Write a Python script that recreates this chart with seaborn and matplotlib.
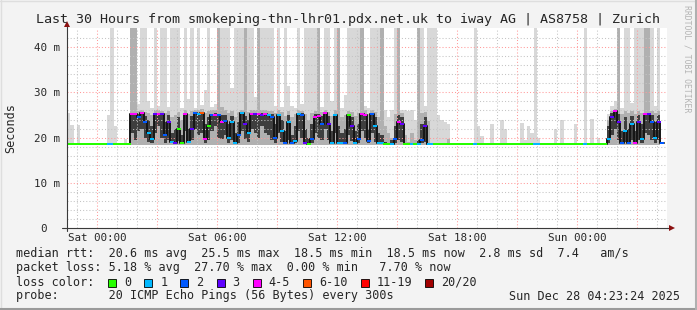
import numpy as np
import pandas as pd
import matplotlib
matplotlib.use("Agg")
import matplotlib.pyplot as plt
from matplotlib.path import Path
from matplotlib.patches import Rectangle
from matplotlib.lines import Line2D
import matplotlib.transforms as mtransforms
import seaborn as sns

# ---------------- data (10-minute steps, hours relative to Sat 00:00) ----------------
start_hour = -1.5
step_hours = 1 / 6

median_ms = [
    18.5, 18.5, 18.5, 18.5, 18.5, 18.5, 18.5, 18.5, 18.5, 18.5, 18.5, 18.5,
    18.5, 18.5, 18.5, 18.5, 18.5, 18.5, 18.5, 25.2, 25.2, 24.6, 25.4, 23.4,
    21.0, 19.6, 25.2, 25.3, 25.2, 20.5, 23.4, 19.0, 18.8, 21.9, 18.7, 25.2,
    19.0, 22.0, 25.4, 25.3, 25.4, 19.8, 22.5, 25.0, 25.1, 25.0, 23.5, 23.6,
    20.0, 23.5, 18.7, 20.5, 25.4, 23.0, 21.0, 25.2, 25.3, 25.2, 25.1, 25.2,
    25.0, 24.6, 20.0, 25.0, 21.5, 18.7, 23.5, 18.7, 19.2, 25.2, 25.1, 18.7,
    18.6, 19.8, 24.6, 24.8, 23.0, 25.4, 23.0, 18.7, 25.0, 18.7, 18.7, 18.8,
    25.0, 22.5, 18.7, 19.8, 25.2, 25.0, 19.2, 25.2, 22.5, 18.7, 18.7, 18.5,
    18.5, 18.5, 19.8, 23.5, 23.0, 18.5, 18.5, 18.5, 18.5, 18.5, 19.5, 22.5,
    18.5, 18.5, 18.5, 18.5, 18.5, 18.5, 18.5, 18.5, 18.5, 18.5, 18.5, 18.5,
    18.5, 18.5, 18.5, 18.5, 18.5, 18.5, 18.5, 18.5, 18.5, 18.5, 18.5, 18.5,
    18.5, 18.5, 18.5, 18.5, 18.5, 18.5, 18.5, 18.5, 18.5, 18.5, 18.5, 18.5,
    18.5, 18.5, 18.5, 18.5, 18.5, 18.5, 18.5, 18.5, 18.5, 18.5, 18.5, 18.5,
    18.5, 18.5, 18.5, 18.5, 18.5, 18.5, 19.8, 24.6, 25.8, 23.4, 18.7, 21.5,
    18.7, 23.0, 18.7, 23.4, 19.8, 25.2, 25.2, 23.4, 20.0, 23.4, 18.8, np.nan,
]

loss_pings = [
    0, 0, 0, 0, 0, 0, 0, 0, 0, 0, 0, 0,
    1, 1, 0, 0, 0, 0, 0, 4, 4, 2, 4, 2,
    1, 1, 3, 4, 3, 2, 3, 1, 3, 0, 0, 4,
    1, 3, 2, 1, 7, 4, 0, 2, 4, 2, 4, 2,
    1, 1, 1, 2, 1, 3, 1, 4, 3, 4, 3, 4,
    1, 2, 2, 1, 1, 2, 1, 2, 1, 1, 2, 3,
    0, 2, 4, 4, 2, 4, 3, 1, 1, 1, 1, 2,
    0, 3, 1, 2, 4, 4, 2, 2, 1, 1, 1, 0,
    0, 1, 2, 4, 3, 0, 0, 1, 0, 1, 2, 3,
    1, 1, 0, 0, 0, 0, 0, 0, 0, 0, 0, 0,
    0, 0, 1, 0, 0, 0, 0, 0, 0, 0, 0, 0,
    0, 0, 0, 0, 0, 0, 0, 0, 1, 1, 0, 0,
    0, 0, 0, 0, 0, 0, 0, 0, 0, 0, 0, 1,
    0, 0, 0, 0, 0, 0, 1, 3, 4, 3, 2, 1,
    2, 1, 4, 3, 1, 4, 3, 2, 1, 3, 2, 0,
]

ping_p25_ms = [
    18.5, 18.5, 18.5, 18.5, 18.5, 18.5, 18.5, 18.5, 18.5, 18.5, 18.5, 18.5,
    18.5, 18.5, 18.5, 18.5, 18.5, 18.5, 18.5, 21.0, 19.5, 21.5, 22.0, 20.0,
    19.0, 18.8, 21.0, 22.5, 20.0, 18.9, 19.5, 18.8, 18.7, 19.2, 18.7, 21.5,
    18.8, 19.5, 22.0, 20.5, 21.0, 18.9, 19.5, 21.5, 22.5, 20.0, 19.8, 20.5,
    18.9, 19.5, 18.7, 18.9, 21.5, 19.8, 19.0, 22.0, 21.0, 20.0, 22.5, 21.0,
    20.5, 19.5, 18.9, 21.0, 19.0, 18.7, 19.5, 18.7, 18.8, 21.5, 20.0, 18.7,
    18.6, 18.8, 21.0, 20.0, 19.5, 22.0, 19.5, 18.7, 21.0, 18.7, 18.7, 18.7,
    20.5, 19.2, 18.7, 18.8, 21.5, 20.0, 18.8, 21.0, 19.0, 18.7, 18.7, 18.5,
    18.5, 18.5, 18.8, 19.5, 19.0, 18.5, 18.5, 18.5, 18.5, 18.5, 18.8, 19.0,
    18.5, 18.5, 18.5, 18.5, 18.5, 18.5, 18.5, 18.5, 18.5, 18.5, 18.5, 18.5,
    18.5, 18.5, 18.5, 18.5, 18.5, 18.5, 18.5, 18.5, 18.5, 18.5, 18.5, 18.5,
    18.5, 18.5, 18.5, 18.5, 18.5, 18.5, 18.5, 18.5, 18.5, 18.5, 18.5, 18.5,
    18.5, 18.5, 18.5, 18.5, 18.5, 18.5, 18.5, 18.5, 18.5, 18.5, 18.5, 18.5,
    18.5, 18.5, 18.5, 18.5, 18.5, 18.5, 18.8, 20.5, 22.0, 19.5, 18.7, 19.0,
    18.7, 19.5, 18.7, 19.5, 18.8, 21.0, 20.5, 19.5, 18.9, 19.5, 18.7, np.nan,
]

ping_p75_ms = [
    18.5, 18.5, 18.5, 18.5, 18.5, 18.5, 18.5, 18.5, 18.5, 18.5, 18.5, 18.5,
    18.5, 18.5, 18.5, 18.5, 18.5, 18.5, 18.5, 25.4, 25.4, 25.2, 25.5, 24.8,
    24.0, 22.5, 25.4, 25.5, 25.4, 23.5, 25.0, 21.0, 22.0, 24.5, 20.5, 25.4,
    22.0, 24.8, 25.6, 25.5, 25.6, 23.0, 24.5, 25.3, 25.4, 25.3, 25.0, 25.0,
    23.0, 24.8, 21.0, 23.5, 25.6, 24.8, 24.0, 25.4, 25.5, 25.4, 25.4, 25.4,
    25.3, 25.2, 23.0, 25.3, 24.0, 21.5, 25.0, 20.5, 22.5, 25.4, 25.4, 22.0,
    20.0, 23.0, 25.2, 25.3, 24.8, 25.6, 24.8, 21.5, 25.3, 22.5, 21.0, 22.0,
    25.3, 24.5, 21.5, 23.0, 25.4, 25.3, 22.0, 25.4, 24.5, 21.0, 20.5, 19.0,
    18.8, 19.5, 22.5, 25.0, 24.5, 18.8, 18.6, 18.8, 18.6, 19.5, 23.0, 24.5,
    18.6, 18.5, 18.5, 18.5, 18.5, 18.5, 18.5, 18.5, 18.5, 18.5, 18.5, 18.5,
    18.5, 18.5, 18.5, 18.5, 18.5, 18.5, 18.5, 18.5, 18.5, 18.5, 18.5, 18.5,
    18.5, 18.5, 18.5, 18.5, 18.5, 18.5, 18.5, 18.5, 18.5, 18.5, 18.5, 18.5,
    18.5, 18.5, 18.5, 18.5, 18.5, 18.5, 18.5, 18.5, 18.5, 18.5, 18.5, 18.5,
    18.5, 18.5, 18.5, 18.5, 18.5, 18.5, 22.5, 25.5, 26.0, 25.2, 21.5, 24.5,
    22.0, 24.8, 21.5, 25.0, 23.0, 25.4, 25.4, 25.0, 23.5, 25.0, 22.0, np.nan,
]

ping_p90_ms = [
    18.6, 18.6, 18.6, 18.6, 18.6, 18.6, 18.6, 18.6, 18.6, 18.6, 18.6, 18.6,
    18.6, 18.6, 18.6, 18.6, 18.6, 18.6, 18.6, 45.0, 45.0, 25.8, 26.0, 25.6,
    25.5, 25.0, 26.0, 26.2, 25.9, 25.5, 25.8, 24.5, 25.0, 25.6, 24.0, 26.0,
    25.2, 25.8, 26.2, 26.0, 26.3, 25.5, 25.8, 26.0, 26.1, 45.0, 26.8, 26.0,
    25.5, 25.8, 24.5, 25.6, 26.2, 45.0, 25.6, 26.0, 26.1, 45.0, 26.0, 26.0,
    25.9, 25.8, 25.5, 26.0, 25.6, 24.8, 25.8, 24.5, 25.2, 26.0, 25.9, 25.2,
    24.0, 25.4, 25.8, 45.0, 25.6, 26.2, 25.6, 24.8, 26.0, 45.0, 24.5, 25.0,
    25.9, 25.6, 24.8, 25.5, 45.0, 26.0, 25.2, 26.0, 25.6, 24.5, 45.0, 22.5,
    21.0, 20.0, 25.2, 45.0, 25.5, 20.5, 19.0, 21.0, 19.5, 45.0, 25.5, 25.6,
    23.7, 18.6, 18.6, 18.6, 18.6, 18.6, 19.8, 18.6, 18.6, 18.6, 18.6, 18.6,
    18.6, 18.6, 18.6, 18.6, 18.6, 18.6, 18.6, 18.6, 18.6, 18.6, 18.6, 18.6,
    18.6, 18.6, 18.6, 18.6, 18.6, 18.6, 18.6, 18.6, 18.6, 18.6, 18.6, 18.6,
    18.6, 18.6, 18.6, 18.6, 18.6, 18.6, 18.6, 18.6, 18.6, 18.6, 18.6, 18.6,
    18.6, 18.6, 18.6, 18.6, 18.6, 18.6, 24.0, 25.8, 26.3, 45.0, 25.2, 25.8,
    25.5, 25.8, 25.2, 25.8, 25.5, 45.0, 45.0, 25.8, 25.5, 25.8, 25.2, np.nan,
]

ping_max_ms = [
    25.4, 22.8, 18.6, 22.7, 18.6, 18.6, 18.6, 18.6, 18.6, 18.6, 18.6, 18.6,
    25.0, 45.0, 22.5, 18.6, 18.6, 19.6, 18.6, 45.0, 45.0, 27.5, 45.0, 45.0,
    28.0, 26.5, 45.0, 27.0, 45.0, 45.0, 26.8, 45.0, 45.0, 45.0, 26.5, 45.0,
    28.5, 45.0, 26.5, 45.0, 27.2, 30.5, 45.0, 26.8, 27.5, 45.0, 45.0, 45.0,
    45.0, 31.0, 45.0, 45.0, 45.0, 45.0, 45.0, 45.0, 29.0, 45.0, 45.0, 45.0,
    45.0, 45.0, 27.0, 45.0, 26.8, 45.0, 31.5, 27.0, 26.5, 45.0, 27.5, 45.0,
    45.0, 45.0, 45.0, 45.0, 26.8, 45.0, 45.0, 28.0, 45.0, 45.0, 26.5, 29.5,
    45.0, 45.0, 45.0, 45.0, 45.0, 27.0, 26.5, 45.0, 45.0, 45.0, 45.0, 26.0,
    24.5, 26.0, 45.0, 45.0, 26.0, 26.2, 25.8, 26.2, 24.0, 45.0, 45.0, 27.0,
    45.0, 45.0, 45.0, 24.9, 24.0, 23.5, 23.0, 18.6, 18.6, 18.6, 18.6, 18.6,
    18.6, 18.6, 45.0, 22.5, 20.3, 18.6, 18.6, 23.0, 18.6, 18.6, 24.0, 21.8,
    18.6, 18.6, 18.6, 18.6, 23.2, 19.5, 22.5, 21.0, 45.0, 20.0, 18.6, 18.6,
    18.6, 18.6, 22.0, 18.6, 23.8, 18.6, 18.6, 18.6, 22.9, 18.6, 18.6, 45.0,
    18.6, 24.1, 18.6, 20.0, 18.6, 18.6, 25.2, 27.0, 28.0, 45.0, 26.5, 45.0,
    45.0, 27.6, 45.0, 45.0, 45.0, 45.0, 45.0, 45.0, 27.0, 45.0, 26.0, np.nan,
]

ping_floor_ms = 18.4

loss_labels = ["0", "1", "2", "3", "4-5", "6-10", "11-19", "20/20"]
loss_upper = [0, 1, 2, 3, 5, 10, 19, 20]
loss_colors = ["#26ff00", "#00b8ff", "#0059ff", "#5e00ff", "#ff00ff",
               "#ff5500", "#ff0000", "#a10000"]

x_tick_hours = [0, 6, 12, 18, 24]
x_tick_labels = ["Sat 00:00", "Sat 06:00", "Sat 12:00", "Sat 18:00", "Sun 00:00"]
y_tick_values = [0, 10, 20, 30, 40]
y_tick_labels = ["0", "10 m", "20 m", "30 m", "40 m"]

title = "Last 30 Hours from smokeping-thn-lhr01.pdx.net.uk to iway AG | AS8758 | Zurich"
line_rtt = "median rtt:  20.6 ms avg  25.5 ms max  18.5 ms min  18.5 ms now  2.8 ms sd  7.4   am/s"
line_loss = "packet loss: 5.18 % avg  27.70 % max  0.00 % min   7.70 % now"
line_lossc = "loss color:"
line_probe = "probe:       20 ICMP Echo Pings (56 Bytes) every 300s"
stamp = "Sun Dec 28 04:23:24 2025"
watermark = "RRDTOOL / TOBI OETIKER"

# ---------------- figure ----------------
sns.set_style("white")
plt.rcParams["font.family"] = ["DejaVu Sans Mono"]

W, H = 697, 310
fig = plt.figure(figsize=(W / 100, H / 100), dpi=100, facecolor="#f3f3f3")


def fx(px):
    return px / W


def fy(py):
    return 1 - py / H


ax = fig.add_axes([fx(67), fy(228), 600 / W, 200 / H])
ax.set_facecolor("white")
n = len(median_ms)
hours = start_hour + np.arange(n) * step_hours
hours_edge = np.append(hours, hours[-1] + step_hours)


def ext(a):
    a = np.asarray(a, dtype=float)
    return np.append(a, a[-1])


# smoke
ax.fill_between(hours_edge, ping_floor_ms, ext(ping_max_ms), step="post",
                color="#d8d8d8", lw=0, zorder=1)
ax.fill_between(hours_edge, ping_floor_ms, ext(ping_p90_ms), step="post",
                color="#b0b0b0", lw=0, zorder=1.1)
ax.fill_between(hours_edge, ext(ping_p25_ms), ext(ping_p75_ms), step="post",
                color="#3e3e3e", lw=0, zorder=1.2)

# median risers
ax.plot(hours_edge, ext(median_ms), drawstyle="steps-post", color="#151515",
        lw=1.4, zorder=4)

# median coloured by loss
cat = []
for lp in loss_pings:
    k = 0
    while lp > loss_upper[k]:
        k += 1
    cat.append(loss_labels[k])
df = pd.DataFrame({"hour": hours + step_hours / 2, "median": median_ms, "loss": cat}).dropna()
seg = Path([(-1.9, -1), (1.9, -1), (1.9, 1), (-1.9, 1), (-1.9, -1)],
           [Path.MOVETO, Path.LINETO, Path.LINETO, Path.LINETO, Path.CLOSEPOLY])
sns.scatterplot(data=df, x="hour", y="median", hue="loss",
                palette=dict(zip(loss_labels, loss_colors)), marker=seg, s=7.5,
                linewidth=0, edgecolor="none", legend=False, ax=ax, zorder=5)

ax.set_xlim(-1.5, 28.5)
ax.set_ylim(0, 44.25)
ax.set_xlabel("")
ax.set_ylabel("")

# grid
major_x = [h for h in range(-1, 29) if h % 3 == 0]
minor_x = [h for h in range(-1, 29) if h % 3 != 0]
ax.set_xticks(major_x, labels=[x_tick_labels[x_tick_hours.index(h)] if h in x_tick_hours else "" for h in major_x])
ax.set_xticks(minor_x, minor=True)
ax.set_yticks(y_tick_values, labels=y_tick_labels)
ax.set_yticks([v for v in range(2, 44, 2) if v % 10 != 0], minor=True)
ax.set_axisbelow(False)
ax.grid(which="minor", color="#c4c4c4", lw=0.75, ls=(0, (1, 2)))
ax.grid(which="major", color="#ff9a9a", lw=0.75, ls=(0, (1, 2)))
ax.tick_params(which="both", length=0)
ax.tick_params(axis="x", pad=3.5, labelsize=7.8)
ax.tick_params(axis="y", pad=5, labelsize=7.8)
zero_lbl = ax.get_yticklabels()[0]
zero_lbl.set_transform(zero_lbl.get_transform() + mtransforms.ScaledTranslation(-0.13, 0, fig.dpi_scale_trans))
for s in ax.spines.values():
    s.set_visible(False)

# axis lines with arrows
axis_c = "#3a3a3a"
ax.plot([-5 / 600, 604 / 600], [0, 0], transform=ax.transAxes, color=axis_c, lw=0.8,
        clip_on=False, zorder=6)
ax.plot([0, 0], [-3 / 200, 203 / 200], transform=ax.transAxes, color=axis_c, lw=0.8,
        clip_on=False, zorder=6)
ax.plot([605 / 600], [0], transform=ax.transAxes, marker=">", ms=4.5, color="#8b1010",
        mew=0, clip_on=False, zorder=7)
ax.plot([0], [204 / 200], transform=ax.transAxes, marker="^", ms=4.5, color="#8b1010",
        mew=0, clip_on=False, zorder=7)

# texts
fig.text(fx(348.5), fy(20), title, ha="center", va="center", size=9.6)
fig.text(fx(11), fy(128), "Seconds", rotation=90, ha="center", va="center", size=8.5)
for yy, s in [(254, line_rtt), (268, line_loss), (282, line_lossc), (296, line_probe)]:
    fig.text(fx(16), fy(yy), s, ha="left", va="center", size=8.5)
fig.text(fx(680), fy(296), stamp, ha="right", va="center", size=8.5)
fig.text(fx(687), fy(5), watermark, rotation=270, ha="center", va="top", size=5.9,
         color="#b4b4b4")

# loss colour legend
char_w = 7.1
tx = 124.0
for lab, col in zip(loss_labels, loss_colors):
    fig.patches.append(Rectangle((fx(tx - 16), fy(286.5)), 8 / W, 8 / H,
                                 transform=fig.transFigure, facecolor=col,
                                 edgecolor="black", lw=0.6, figure=fig))
    fig.text(fx(tx), fy(282), lab, ha="left", va="center", size=8.5)
    tx += (len(lab) + 4.1) * char_w

# frame
fig.add_artist(Line2D([0, 1], [fy(0.5), fy(0.5)], transform=fig.transFigure, color="#dedede", lw=1))
fig.add_artist(Line2D([fx(0.5), fx(0.5)], [0, 1], transform=fig.transFigure, color="#dedede", lw=1))
fig.add_artist(Line2D([0, 1], [fy(309), fy(309)], transform=fig.transFigure, color="#9a9a9a", lw=1.5))
fig.add_artist(Line2D([fx(696), fx(696)], [0, 1], transform=fig.transFigure, color="#b0b0b0", lw=1.5))

fig.savefig("out.png", dpi=100, facecolor=fig.get_facecolor())
